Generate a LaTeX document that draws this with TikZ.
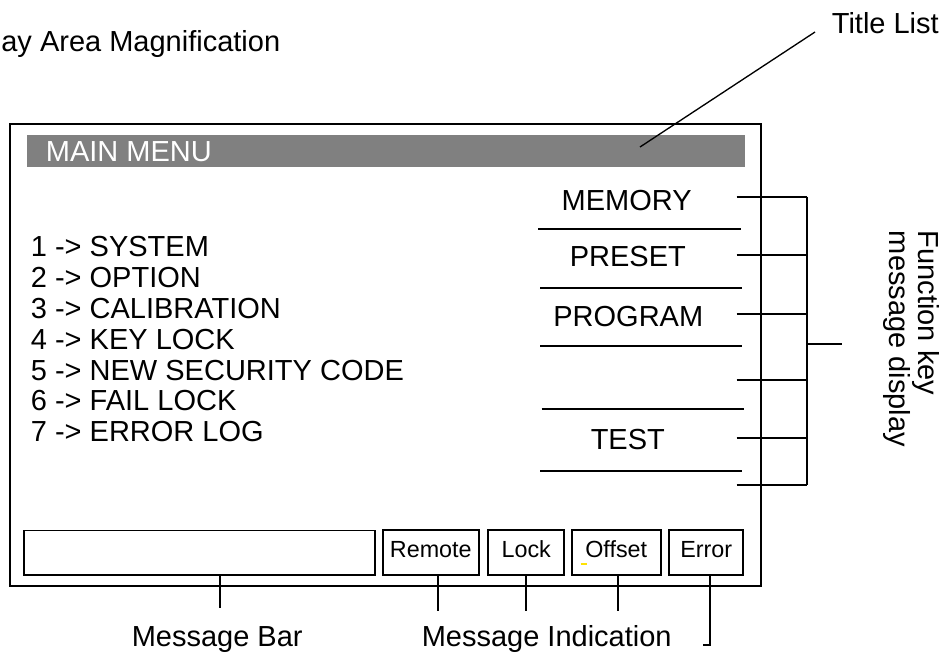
\documentclass[tikz,border=0pt]{standalone}
\usepackage{fontspec}
\setmainfont{Liberation Sans}
\usepackage{tikz}

\begin{document}
\begin{tikzpicture}[x=0.75pt, y=-0.75pt, line width=1.3pt,
    txt/.style={font=\fontsize{21.75}{26}\selectfont, inner sep=0pt},
    menuline/.style={font=\fontsize{21.75}{26}\selectfont, inner sep=0pt, anchor=base west},
    keytxt/.style={font=\fontsize{21.75}{26}\selectfont, inner sep=0pt, anchor=base},
    keybox/.style={draw, minimum height=33.5pt, inner sep=0pt, text height=12.6pt, text depth=5pt, font=\fontsize{17.5}{20}\selectfont}]

    \useasboundingbox (0,0) rectangle (948,654);

    \node[txt, anchor=base west](mag) at (0.5,51.7) {ay Area Magnification};
    \node[txt, anchor=base west](tlist) at (831,33.3) {Title List};
    \coordinate (tl1) at (815,32);
    \coordinate (tl2) at (640,147);

    % screen
    \draw (10,124) rectangle (761,586);
    \fill[gray] (26.7,135) rectangle (745,166.7);
    \node[txt, anchor=base west, text=white](mainmenu) at (45,161) {MAIN MENU};
    \draw[-, line width=1pt] (tl1) -- (tl2);

    \node[menuline](m1) at (30,256.7) {1 -> SYSTEM};
    \node[menuline](m2) at (30,287.5) {2 -> OPTION};
    \node[menuline](m3) at (30,318.4) {3 -> CALIBRATION};
    \node[menuline](m4) at (30,349.2) {4 -> KEY LOCK};
    \node[menuline](m5) at (30,380.0) {5 -> NEW SECURITY CODE};
    \node[menuline](m6) at (30,410.9) {6 -> FAIL LOCK};
    \node[menuline](m7) at (30,441.7) {7 -> ERROR LOG};

    \node[keytxt](fk1) at (626.7,210) {MEMORY};
    \node[keytxt](fk2) at (627.8,266) {PRESET};
    \node[keytxt](fk3) at (628.3,326.7) {PROGRAM};
    \node[keytxt](fk5) at (627.8,449.3) {TEST};

    \draw[-] (538,229.3) -- (740.7,229.3);
    \draw[-] (540,288.3) -- (741.7,288.3);
    \draw[-] (540,345.7) -- (741.7,345.7);
    \draw[-] (541.7,409) -- (743.7,409);
    \draw[-] (540,471) -- (741.7,471);

    % function key bracket
    \coordinate (brtop) at (806.7,196.7);
    \coordinate (brbot) at (806.7,485);
    \coordinate (brend) at (841.7,344);
    \foreach \y in {196.7,255,314,380,437.7,485}
        \draw[-] (736.7,\y) -- (806.7,\y);
    \draw[-] (brtop) -- (brbot);
    \draw[-] (brtop |- brend) -- (brend);
    \node[txt, rotate=-90, anchor=north west, align=left, font=\fontsize{21.75}{21.2}\selectfont](fkey) at (940,230) {Function key\\message display};

    % message bar and indications
    \node[keybox, minimum width=263.2pt](mbar) at (199.5,552.8) {};
    \node[keybox, minimum width=72.2pt](remote) at (430.8,552.5) {Remote};
    \node[keybox, minimum width=56.8pt](lock) at (526.2,552.5) {Lock};
    \node[keybox, minimum width=66.8pt](offset) at (616.2,552.5) {Offset};
    \node[keybox, minimum width=55.5pt](error) at (706.3,552.5) {Error};
    \draw[-, yellow!85!orange, line width=1.5pt] (580.7,564) -- (587.3,564);

    \coordinate (mbarend) at (220,608.3);
    \coordinate (remend) at (437.7,610.7);
    \coordinate (lockend) at (525.7,610.7);
    \coordinate (offend) at (617.7,610.7);
    \coordinate (errend) at (710,645);
            \draw[-] (mbar.south -| mbarend) -- (mbarend);
            \draw[-] (remote.south -| remend) -- (remend);
            \draw[-] (lock.south -| lockend) -- (lockend);
            \draw[-] (offset.south -| offend) -- (offend);
            \draw[-] (error.south -| errend) -- (errend) -- ++(-6.7,0);

    \node[txt, anchor=base](mbarlbl) at (217.2,646.7) {Message Bar};
    \node[txt, anchor=base](indlbl) at (546.7,646.5) {Message Indication};

\end{tikzpicture}
\end{document}
